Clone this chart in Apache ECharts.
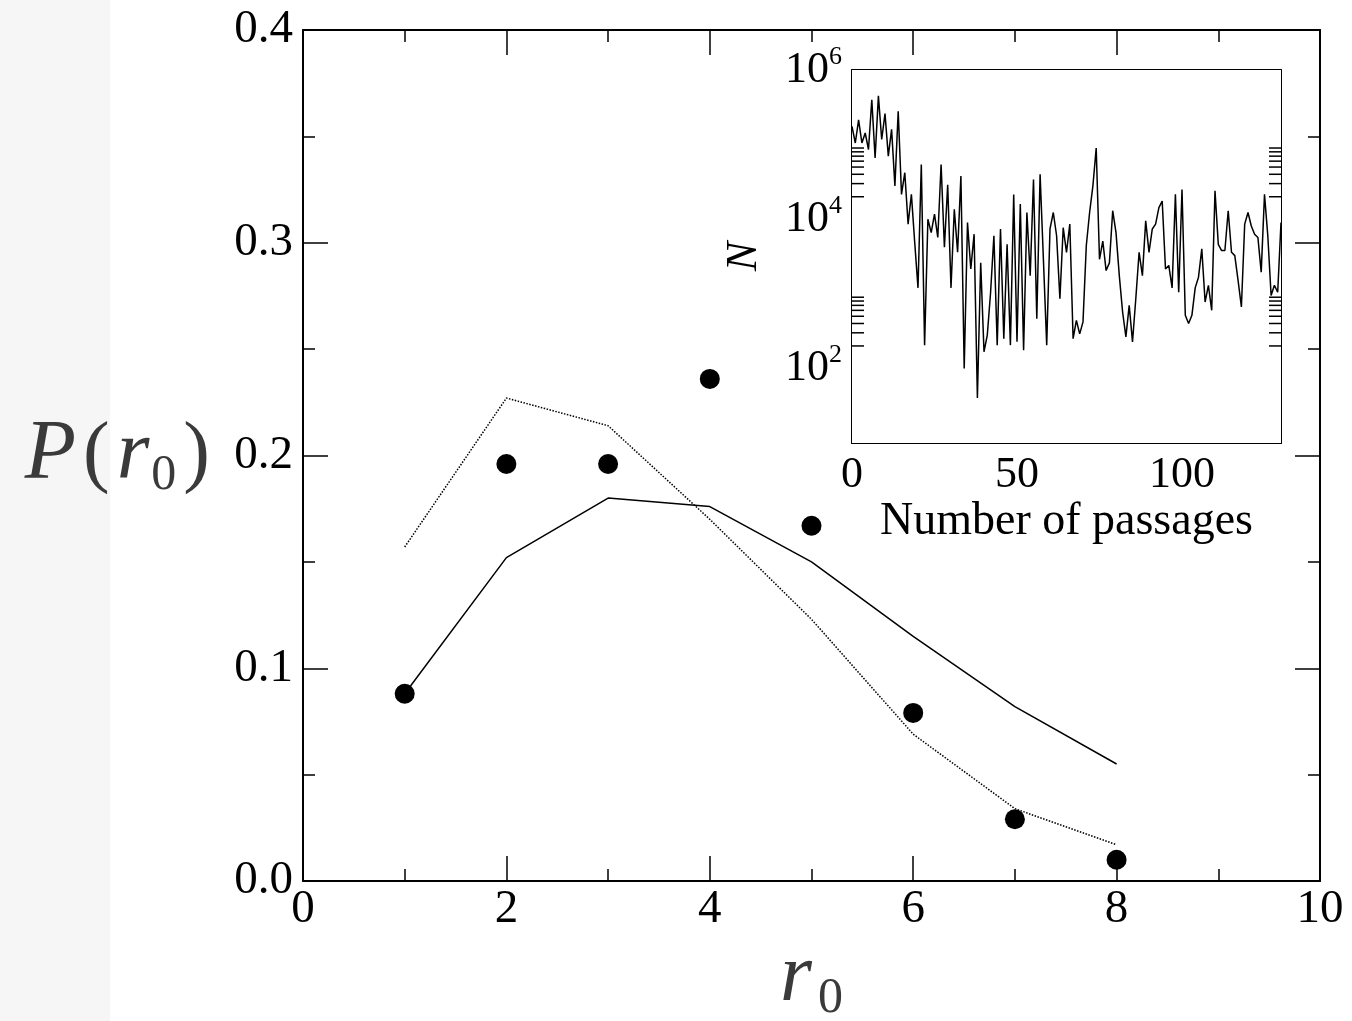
<!DOCTYPE html>
<html><head><meta charset="utf-8">
<script src="https://cdn.jsdelivr.net/npm/echarts@6/dist/echarts.min.js"></script>
<style>html,body{margin:0;padding:0;background:#fff}#c{width:1352px;height:1021px}</style>
</head><body><div id="c"></div>
<script>
// ---- Main panel data ----
const r0Values = [1, 2, 3, 4, 5, 6, 7, 8];
const pMeasured = [0.088, 0.196, 0.196, 0.236, 0.167, 0.079, 0.029, 0.010];
const pSolid = [0.088, 0.152, 0.180, 0.176, 0.150, 0.115, 0.082, 0.055];
const pDotted = [0.157, 0.227, 0.214, 0.170, 0.123, 0.069, 0.034, 0.017];
// ---- Inset data: N per passage (passage index = position) ----
const nPerPassage = [
  175000,105000,215000,105000,143000,86000,400000,66000,450000,117000,
  260000,70000,160000,28000,280000,21500,42000,8600,21500,4900,
  1200,54000,205,10000,6600,11700,5700,54000,4200,29000,
  1200,13600,3600,38000,100,9000,2150,6300,40,2600,
  167,280,1050,6000,205,7400,250,4600,205,21500,
  227,16000,175,12300,1750,34000,465,40000,2900,205,
  7400,12300,6000,860,7700,3600,8600,250,440,290,
  420,4400,12300,28000,90000,2900,5100,2050,2600,13000,
  6600,1750,570,265,700,227,860,3600,1750,9500,
  3600,7400,8600,14300,17500,2150,2400,1200,21500,1050,
  25000,515,400,515,1200,1670,4000,775,1300,600,
  24000,4600,3800,3800,13000,3600,3250,1500,665,8600,
  12300,8100,6300,5700,1950,21500,6000,950,1300,1050,
  9000
];
const insetMinorTickValues = [200,300,400,500,600,700,800,900,20000,30000,40000,50000,60000,70000,80000,90000];
const insetXMax = 130;

const serif = 'Liberation Serif';
const titleColor = '#3a3a3a';
const tickStyle = { color: '#000', width: 1.5 };

function mainX(pos, labels) {
  return {
    type: 'value', gridIndex: 0, position: pos, min: 0, max: 10, interval: 2,
    axisLine: { show: true, onZero: false, lineStyle: { color: '#000', width: 2 } },
    axisTick: { show: true, inside: true, length: 25, lineStyle: tickStyle },
    minorTick: { show: true, splitNumber: 2, length: 12, lineStyle: tickStyle },
    splitLine: { show: false },
    axisLabel: { show: labels, margin: 5, fontFamily: serif, fontSize: 47, color: '#000' }
  };
}
function mainY(pos, labels) {
  return {
    type: 'value', gridIndex: 0, position: pos, min: 0, max: 0.4, interval: 0.1,
    axisLine: { show: true, onZero: false, lineStyle: { color: '#000', width: 2 } },
    axisTick: { show: true, inside: true, length: 25, lineStyle: tickStyle },
    minorTick: { show: true, splitNumber: 2, length: 12, lineStyle: tickStyle },
    splitLine: { show: false },
    axisLabel: { show: labels, margin: 10, fontFamily: serif, fontSize: 47, color: '#000',
      formatter: v => v.toFixed(1) }
  };
}
function insetX(pos, major, labels) {
  return {
    type: 'value', gridIndex: 1, position: pos, min: 0, max: insetXMax, interval: major ? 50 : 25,
    axisLine: { show: major, onZero: false, lineStyle: { color: '#000', width: 2 } },
    axisTick: { show: true, inside: true, length: major ? 24 : 12, lineStyle: tickStyle },
    splitLine: { show: false },
    axisLabel: { show: labels, margin: 10, fontFamily: serif, fontSize: 44, color: '#000',
      formatter: v => (v % 50 === 0 ? String(v) : '') }
  };
}
function insetY(pos, labels) {
  return {
    type: 'log', logBase: 100, gridIndex: 1, position: pos, min: 10, max: 1000000,
    axisLine: { show: true, onZero: false, lineStyle: { color: '#000', width: 2 } },
    axisTick: { show: true, inside: true, length: 24, lineStyle: tickStyle },
    splitLine: { show: false },
    axisLabel: { show: labels, margin: 10, color: '#000',
      formatter: v => {
        const e = Math.round(Math.log10(v));
        return e % 2 === 0 ? '{b|10}{s|' + e + '}' : '';
      },
      rich: {
        b: { fontFamily: serif, fontSize: 44, color: '#000' },
        s: { fontFamily: serif, fontSize: 26, color: '#000', padding: [0, 0, 26, 0] }
      }
    }
  };
}

const xMain = mainX('bottom', true);
xMain.name = '{r|r}{sub|0}';
xMain.nameLocation = 'middle';
xMain.nameGap = 40;
xMain.nameTextStyle = { rich: {
  r: { fontFamily: serif, fontStyle: 'italic', fontSize: 82, color: titleColor, lineHeight: 90 },
  sub: { fontFamily: serif, fontSize: 50, color: titleColor, padding: [40, 0, 0, 6] }
}};
const yMain = mainY('left', true);
yMain.name = '{P|P}{par|(}{r|r}{sub|0}{par|)}';
yMain.nameLocation = 'middle';
yMain.nameRotate = 0;
yMain.nameGap = 86;
yMain.nameTextStyle = { rich: {
  P: { fontFamily: serif, fontStyle: 'italic', fontSize: 84, color: titleColor, lineHeight: 90 },
  par: { fontFamily: serif, fontSize: 80, color: titleColor, padding: [0, 7] },
  r: { fontFamily: serif, fontStyle: 'italic', fontSize: 84, color: titleColor },
  sub: { fontFamily: serif, fontSize: 50, color: titleColor, padding: [40, 0, 0, 2] }
}};
const xInset = insetX('bottom', true, true);
xInset.name = 'Number of passages';
xInset.nameLocation = 'middle';
xInset.nameGap = 56;
xInset.nameTextStyle = { fontFamily: serif, fontSize: 46, color: '#000' };
const yInset = insetY('left', true);
yInset.name = 'N';
yInset.nameLocation = 'middle';
yInset.nameRotate = 90;
yInset.nameGap = 86;
yInset.nameTextStyle = { fontFamily: serif, fontStyle: 'italic', fontSize: 44, color: '#000' };

const chart = echarts.init(document.getElementById('c'), null, { renderer: 'canvas' });
chart.setOption({
  animation: false,
  backgroundColor: '#fff',
  graphic: [{ type: 'rect', z: -10, shape: { x: 0, y: 0, width: 110, height: 1021 }, style: { fill: '#f6f6f6' } }],
  grid: [
    { left: 303, right: 32, top: 30, bottom: 140, outerBoundsMode: 'none', containLabel: false },
    { left: 852, top: 70, width: 429, height: 373, outerBoundsMode: 'none', containLabel: false,
      show: true, backgroundColor: '#fff', borderWidth: 0, z: 5 }
  ],
  xAxis: [xMain, mainX('top', false), xInset, insetX('bottom', false, false), insetX('top', true, false), insetX('top', false, false)],
  yAxis: [yMain, mainY('right', false), yInset, insetY('right', false)],
  series: [
    { type: 'line', xAxisIndex: 0, yAxisIndex: 0, symbol: 'none', data: r0Values.map((r, i) => [r, pDotted[i]]),
      lineStyle: { color: '#000', width: 1.5, type: 'dotted' } },
    { type: 'line', xAxisIndex: 0, yAxisIndex: 0, symbol: 'none', data: r0Values.map((r, i) => [r, pSolid[i]]),
      lineStyle: { color: '#000', width: 1.5 } },
    { type: 'scatter', xAxisIndex: 0, yAxisIndex: 0, symbolSize: 20, data: r0Values.map((r, i) => [r, pMeasured[i]]),
      itemStyle: { color: '#000', opacity: 1 } },
    { type: 'line', xAxisIndex: 2, yAxisIndex: 2, symbol: 'none', z: 6, data: nPerPassage.map((n, i) => [i, n]),
      lineStyle: { color: '#000', width: 1.5 } },
    { type: 'custom', xAxisIndex: 2, yAxisIndex: 2, z: 7, silent: true, clip: false,
      data: insetMinorTickValues.map(v => [0, v]), encode: { x: 0, y: 1 },
      renderItem: (params, api) => {
        const v = api.value(1);
        const l = api.coord([0, v]);
        const r = api.coord([insetXMax, v]);
        return { type: 'group', children: [
          { type: 'line', shape: { x1: l[0], y1: l[1], x2: l[0] + 12, y2: l[1] }, style: { stroke: '#000', lineWidth: 1.5 } },
          { type: 'line', shape: { x1: r[0], y1: r[1], x2: r[0] - 12, y2: r[1] }, style: { stroke: '#000', lineWidth: 1.5 } }
        ]};
      } }
  ]
});
</script></body></html>
